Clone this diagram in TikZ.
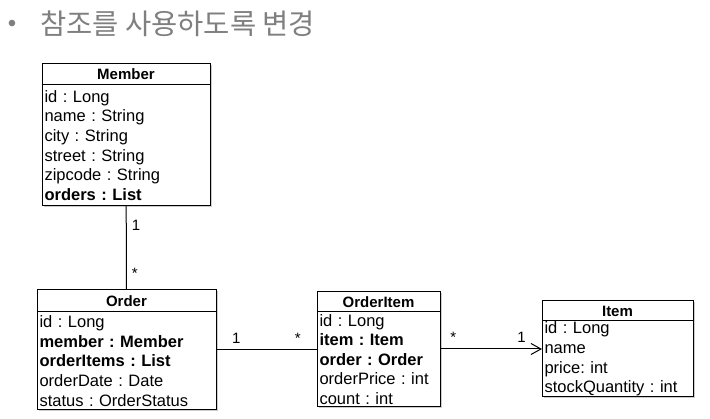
\documentclass[tikz,border=0pt]{standalone}
\usepackage{fontspec}
\setmainfont{Liberation Sans}
\newfontfamily\krfont{Noto Sans CJK KR}
\usetikzlibrary{arrows.meta,positioning,shadows}
\definecolor{titlegrey}{RGB}{127,127,127}
\newcommand{\hdfont}{\fontsize{15}{18}\selectfont\bfseries}
\newcommand{\bdfont}{\fontsize{16.5}{19.6}\selectfont\frenchspacing}

\begin{document}
\begin{tikzpicture}[x=1pt,y=1pt,
  hd/.style={draw,fill=white,line width=1pt,outer sep=0pt,inner sep=0pt,
             anchor=north west,font=\hdfont,
             drop shadow={shadow xshift=1.5pt,shadow yshift=-1.5pt,opacity=.4}},
  bd/.style={draw,fill=white,line width=1pt,outer sep=0pt,inner xsep=2.5pt,inner ysep=0pt,
             align=left,font=\bdfont,
             drop shadow={shadow xshift=1.5pt,shadow yshift=-1.5pt,opacity=.4}},
  ln/.style={line width=1pt},
  lbl/.style={inner sep=0pt,font=\fontsize{15}{18}\selectfont},
  ttl/.style={text=titlegrey,inner sep=0pt}]

\useasboundingbox (0,0) rectangle (710,-419);

% title
\node[ttl,font=\fontsize{24}{24}\selectfont] (dot) at (12,-26) {•};
\node[ttl,font=\krfont\fontsize{28.5}{30}\selectfont,anchor=base west] (t) at (40,-35)
  {참조를 사용하도록 변경};

% classes
\node[hd,minimum width=168pt,minimum height=21pt] (mh) at (42,-64) {Member};
\node[bd,below=0pt of mh,text width=163pt,minimum height=121pt] (mb)
  {id : Long\\ name : String\\ city : String\\ street : String\\ zipcode : String\\
   \textbf{orders : List}};

\node[hd,minimum width=179pt,minimum height=22pt] (oh) at (37,-290) {Order};
\node[bd,below=0pt of oh,text width=174pt,minimum height=98pt] (ob)
  {id : Long\\ \textbf{member : Member}\\ \textbf{orderItems : List}\\ orderDate : Date\\
   status : OrderStatus};

\node[hd,minimum width=123pt,minimum height=20pt] (oih) at (317,-292) {OrderItem};
\node[bd,below=0pt of oih,text width=118pt,minimum height=95pt] (oib)
  {id : Long\\ \textbf{item : Item}\\ \textbf{order : Order}\\ orderPrice : int\\ count : int};

\node[hd,minimum width=151pt,minimum height=20pt] (ih) at (542,-301) {Item};
\node[bd,below=0pt of ih,text width=146pt,minimum height=76pt] (ib)
  {id : Long\\ name\\ price: int\\ stockQuantity : int};

% associations
\draw[ln] (mb) -- (oh)
  node[lbl,pos=.23,right=5pt] {1} node[lbl,pos=.8,right=5pt] {*};
\draw[ln] ([yshift=11pt]ob.east) -- ([yshift=11pt]ob.east -| oib.west)
  node[lbl,pos=.2,above=6pt] {1} node[lbl,pos=.81,above=6pt] {*};
\draw[ln,-{Straight Barb[length=10pt,width=11pt]}] ([yshift=10.5pt]oib.east)
  -- ([yshift=10.5pt]oib.east -| ib.west)
  node[lbl,pos=.13,above=6pt] {*} node[lbl,pos=.8,above=6pt] {1};
\end{tikzpicture}
\end{document}
